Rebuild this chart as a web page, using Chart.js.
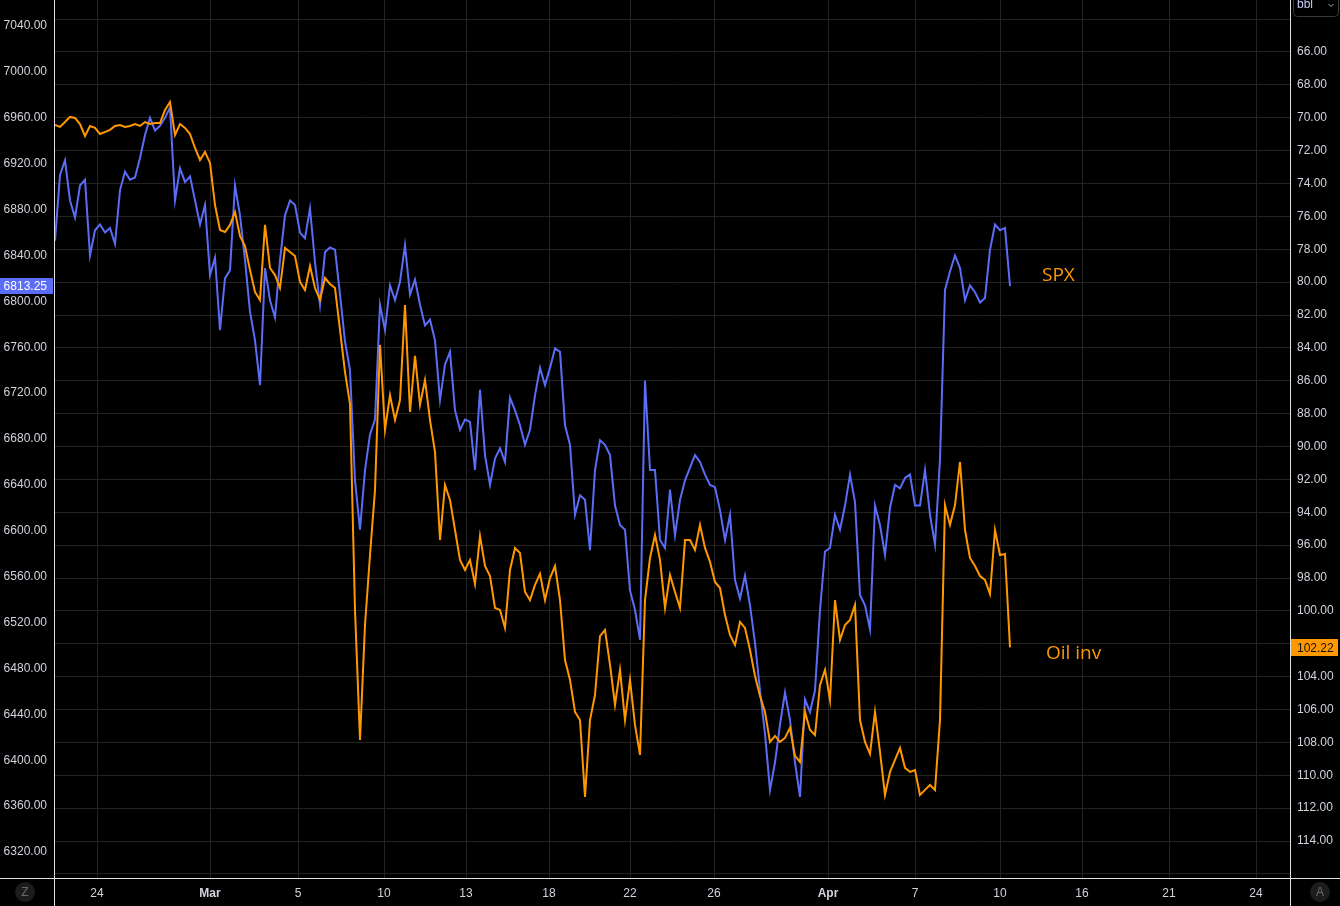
<!DOCTYPE html>
<html>
<head>
<meta charset="utf-8">
<script src="https://cdn.jsdelivr.net/npm/chart.js@4/dist/chart.umd.min.js"></script>
<style>
  html, body { margin: 0; padding: 0; background: #000; }
  #wrap { width: 1340px; height: 906px; }
</style>
</head>
<body>
<div id="wrap"><canvas id="chart" width="1340" height="906"></canvas></div>
<script>
// SPX (left axis), sampled left to right in equal steps
const spx = [6853, 6910, 6923, 6888, 6873, 6901, 6906, 6840, 6862, 6867,
  6860, 6864, 6850, 6897, 6913, 6906, 6908, 6925, 6945, 6960,
  6949, 6953, 6960, 6969, 6888, 6916, 6904, 6909, 6888, 6867,
  6884, 6823, 6838, 6775, 6820, 6827, 6901, 6875, 6836, 6791,
  6766, 6727, 6829, 6801, 6786, 6836, 6875, 6888, 6884, 6860,
  6855, 6881, 6834, 6797, 6843, 6847, 6845, 6806, 6765, 6740,
  6644, 6601, 6653, 6684, 6697, 6797, 6775, 6814, 6801, 6817,
  6849, 6806, 6819, 6797, 6779, 6784, 6766, 6714, 6745, 6756,
  6705, 6688, 6697, 6695, 6653, 6723, 6666, 6640, 6663, 6672,
  6660, 6716, 6705, 6692, 6675, 6688, 6718, 6742, 6727, 6742,
  6759, 6756, 6692, 6675, 6614, 6631, 6627, 6583, 6653, 6679,
  6675, 6666, 6622, 6605, 6601, 6548, 6531, 6505, 6731, 6653,
  6653, 6592, 6585, 6636, 6596, 6627, 6644, 6655, 6666, 6660,
  6649, 6640, 6638, 6618, 6592, 6614, 6557, 6541, 6561, 6535,
  6502, 6461, 6423, 6374, 6398, 6431, 6459, 6435, 6398, 6368,
  6453, 6442, 6461, 6531, 6582, 6585, 6614, 6601, 6622, 6649,
  6625, 6544, 6535, 6514, 6622, 6605, 6579, 6620, 6640, 6637,
  6646, 6649, 6622, 6622, 6653, 6614, 6588, 6662, 6810, 6826,
  6840, 6829, 6801, 6814, 6808, 6799, 6803, 6845, 6867, 6862,
  6864, 6813.25];

// Oil (right axis, inverted)
const oil = [70.44, 70.56, 70.26, 69.95, 70.01, 70.38, 71.11, 70.50, 70.62, 70.99,
  70.87, 70.74, 70.50, 70.44, 70.56, 70.50, 70.38, 70.50, 70.26, 70.38,
  70.32, 70.32, 69.53, 69.04, 71.05, 70.38, 70.62, 70.99, 71.84, 72.57,
  72.08, 72.75, 75.31, 76.83, 76.95, 76.52, 75.73, 77.19, 77.80, 79.26,
  80.60, 81.09, 76.52, 79.14, 79.57, 80.36, 77.92, 78.17, 78.41, 79.99,
  80.48, 79.02, 80.36, 81.09, 79.75, 80.11, 80.36, 82.91, 85.47, 87.41,
  99.94, 107.85, 100.86, 96.60, 92.64, 83.82, 88.99, 86.87, 88.39, 87.17,
  81.39, 87.90, 84.49, 87.47, 85.95, 88.39, 90.33, 95.69, 92.34, 93.25,
  95.08, 96.90, 97.51, 96.90, 98.36, 95.44, 97.27, 97.88, 99.82, 99.94,
  101.04, 97.51, 96.17, 96.48, 98.85, 99.34, 98.42, 97.75, 99.34, 98.00,
  97.27, 99.34, 102.99, 104.20, 106.15, 106.64, 111.32, 106.64, 105.11, 101.53,
  101.16, 103.29, 105.72, 103.59, 106.64, 104.20, 106.94, 108.76, 99.34, 96.78,
  95.38, 96.90, 99.82, 97.81, 98.85, 99.82, 95.69, 95.69, 96.29, 94.77,
  96.17, 97.02, 98.24, 98.61, 100.25, 101.46, 102.07, 100.67, 101.04, 102.38,
  103.96, 105.18, 106.15, 107.97, 107.61, 107.97, 107.73, 107.12, 108.82, 109.19,
  106.15, 107.24, 107.55, 104.51, 103.59, 105.42, 99.34, 101.77, 100.86, 100.55,
  99.64, 106.64, 107.97, 108.70, 106.15, 108.58, 111.20, 109.80, 109.07, 108.34,
  109.55, 109.80, 109.68, 111.20, 110.89, 110.59, 110.89, 106.64, 93.56, 94.77,
  93.56, 90.94, 95.08, 96.78, 97.27, 97.88, 98.12, 98.97, 95.08, 96.60,
  96.54, 102.22];

// date ticks (in sample steps) and their labels
const dateTicks = [8.4, 31, 48.6, 65.8, 82.2, 98.8, 115, 131.8, 154.6, 172, 189, 205.4, 222.8, 240.2];
const dateLabels = ['24', 'Mar', '5', '10', '13', '18', '22', '26', 'Apr', '7', '10', '16', '21', '24'];

const spxTicks = [6320, 6360, 6400, 6440, 6480, 6520, 6560, 6600, 6640, 6680, 6720, 6760,
  6800, 6840, 6880, 6920, 6960, 7000, 7040];
const oilTicks = [64, 66, 68, 70, 72, 74, 76, 78, 80, 82, 84, 86, 88, 90, 92, 94, 96, 98,
  100, 102, 104, 106, 108, 110, 112, 114, 116];

const blue = '#5b6cf7';
const orange = '#ff9800';
const tickFont = { family: 'Liberation Sans', size: 12 };
const tickColor = '#d1d4dc';
const lastOil = oil[oil.length - 1];

// no label overflow padding, so the plot fills the canvas top
function noPad(scale) {
    scale.paddingTop = 0;
    scale.paddingBottom = 0;
    scale.paddingLeft = 0;
    scale.paddingRight = 0;
}

const overlay = {
    id: 'overlay',
    afterDraw(chart) {
        const ctx = chart.ctx;
        const { left, right, bottom } = chart.chartArea;
        const W = chart.width, H = chart.height;
        ctx.save();

        // axis borders
        ctx.strokeStyle = '#e0e0e0';
        ctx.lineWidth = 1;
        ctx.beginPath();
        ctx.moveTo(left - 0.5, 0); ctx.lineTo(left - 0.5, H);
        ctx.moveTo(right + 0.5, 0); ctx.lineTo(right + 0.5, H);
        ctx.moveTo(0, bottom + 0.5); ctx.lineTo(W, bottom + 0.5);
        ctx.stroke();

        // last value labels
        ctx.font = '12px "Liberation Sans"';
        ctx.textBaseline = 'middle';
        const yB = chart.scales.y.getPixelForValue(spx[spx.length - 1]);
        ctx.fillStyle = blue;
        ctx.fillRect(0, Math.round(yB) - 8, left - 2, 16);
        ctx.fillStyle = '#ffffff';
        ctx.textAlign = 'right';
        ctx.fillText(spx[spx.length - 1].toFixed(2), left - 8, yB + 1);

        const yO = chart.scales.y1.getPixelForValue(lastOil);
        ctx.fillStyle = orange;
        ctx.fillRect(right + 1, Math.round(yO) - 8, 47, 17);
        ctx.fillStyle = '#131313';
        ctx.textAlign = 'left';
        ctx.fillText(lastOil.toFixed(2), right + 7, yO + 1);

        // series names
        ctx.font = '19px "Open Sans"';
        ctx.fillStyle = orange;
        ctx.textAlign = 'left';
        ctx.fillText('SPX', 1042, 276);
        ctx.fillText('Oil inv', 1046, 654);

        // corner buttons
        [[25, 892, 'Z'], [1320, 892, 'A']].forEach(([cx, cy, t]) => {
            ctx.fillStyle = '#1c1c1c';
            ctx.beginPath();
            ctx.arc(cx, cy, 10, 0, Math.PI * 2);
            ctx.fill();
            ctx.fillStyle = '#6a6a6a';
            ctx.font = '12px "Liberation Sans"';
            ctx.textAlign = 'center';
            ctx.fillText(t, cx, cy + 1);
        });

        // unit dropdown
        ctx.strokeStyle = '#3a3a3a';
        ctx.beginPath();
        ctx.roundRect(1293.5, -4.5, 45, 21, 4);
        ctx.stroke();
        ctx.fillStyle = '#c8ccf5';
        ctx.textAlign = 'left';
        ctx.font = '12px "Liberation Sans"';
        ctx.fillText('bbl', 1297, 5);
        ctx.strokeStyle = '#b0b0b0';
        ctx.beginPath();
        ctx.moveTo(1328.5, 4); ctx.lineTo(1331, 6.5); ctx.lineTo(1333.5, 4);
        ctx.stroke();

        ctx.restore();
    }
};

new Chart(document.getElementById('chart'), {
    type: 'line',
    data: {
        datasets: [
            {
                label: 'Oil inv',
                data: oil.map((v, i) => ({ x: i, y: v })),
                yAxisID: 'y1',
                borderColor: orange,
                borderWidth: 2,
                pointRadius: 0,
                tension: 0,
                order: 0
            },
            {
                label: 'SPX',
                data: spx.map((v, i) => ({ x: i, y: v })),
                yAxisID: 'y',
                borderColor: blue,
                borderWidth: 2,
                pointRadius: 0,
                tension: 0,
                order: 1
            }
        ]
    },
    options: {
        responsive: false,
        animation: false,
        layout: { padding: 0 },
        plugins: { legend: { display: false }, tooltip: { enabled: false } },
        scales: {
            x: {
                type: 'linear',
                min: 0,
                max: 247,
                afterBuildTicks: (scale) => { scale.ticks = dateTicks.map(v => ({ value: v })); },
                afterFit: (scale) => { scale.height = 28; noPad(scale); },
                ticks: {
                    autoSkip: false,
                    maxRotation: 0,
                    padding: 8,
                    color: tickColor,
                    font: (c) => ({
                        family: 'Liberation Sans',
                        size: 12,
                        weight: ['Mar', 'Apr'].includes(dateLabels[c.index]) ? 'bold' : 'normal'
                    }),
                    callback: (v, i) => dateLabels[i]
                },
                grid: { color: '#232323', drawTicks: false },
                border: { display: false }
            },
            y: {
                position: 'left',
                min: 6297.35,
                max: 7062.7,
                afterBuildTicks: (scale) => { scale.ticks = spxTicks.map(v => ({ value: v })); },
                afterFit: (scale) => { scale.width = 55; noPad(scale); },
                ticks: {
                    padding: 8,
                    color: tickColor,
                    font: tickFont,
                    callback: (v) => v.toFixed(2)
                },
                grid: { display: false, drawTicks: false },
                border: { display: false }
            },
            y1: {
                position: 'right',
                reverse: true,
                min: 62.837,
                max: 116.25,
                afterBuildTicks: (scale) => { scale.ticks = oilTicks.map(v => ({ value: v })); },
                afterFit: (scale) => { scale.width = 50; noPad(scale); },
                ticks: {
                    padding: 7,
                    color: tickColor,
                    font: tickFont,
                    // the last-value tag covers the tick next to it
                    callback: (v) => (v < 66 || v > 114 || Math.abs(v - lastOil) < 1) ? '' : v.toFixed(2)
                },
                grid: { color: '#232323', drawTicks: false },
                border: { display: false }
            }
        }
    },
    plugins: [overlay]
});
</script>
</body>
</html>
